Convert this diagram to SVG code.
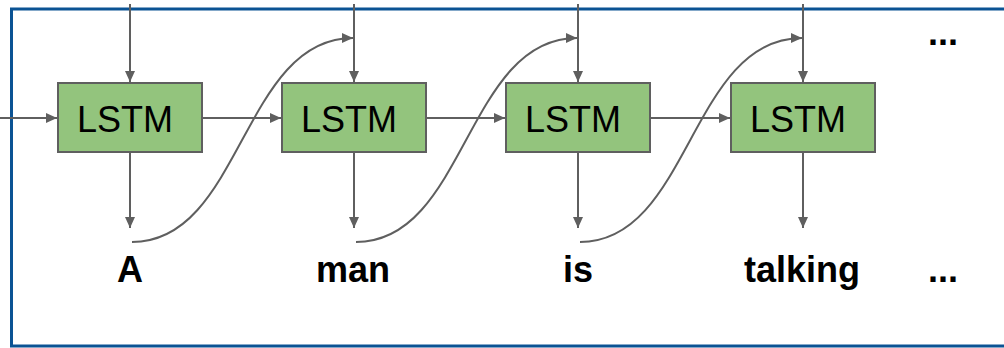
<svg xmlns="http://www.w3.org/2000/svg" width="1004" height="348" viewBox="0 0 1004 348">
<style>
.box{fill:#93c47d;stroke:#5f5f5f;stroke-width:2}
.lbl{font-family:"Liberation Sans",Arial,sans-serif;font-size:36px;fill:#000;text-anchor:middle}
.word{font-family:"Liberation Sans",Arial,sans-serif;font-size:36px;font-weight:bold;fill:#000;text-anchor:middle}
.c{fill:none;stroke:#5f5f5f;stroke-width:2;marker-end:url(#ah)}
</style>
<defs>
<marker id="ah" markerUnits="userSpaceOnUse" markerWidth="12" markerHeight="10" refX="11" refY="5" orient="auto">
<path d="M0,0 L11,5 L0,10 Z" fill="#5f5f5f"/>
</marker>
</defs>
<rect x="11.5" y="9" width="1000" height="337" fill="none" stroke="#0b5394" stroke-width="3"/>
<g id="connectors">
<path class="c" d="M0,118 H57"/>
<path class="c" d="M130,4 V82"/>
<path class="c" d="M354,4 V82"/>
<path class="c" d="M578,4 V82"/>
<path class="c" d="M803,4 V82"/>
<path class="c" d="M202,118 H281"/>
<path class="c" d="M426,118 H505"/>
<path class="c" d="M650,118 H730"/>
<path class="c" d="M130,153 V228"/>
<path class="c" d="M354,153 V228"/>
<path class="c" d="M578,153 V228"/>
<path class="c" d="M803,153 V228"/>
<path class="c" d="M132,242 C242,242 242,38 353,38"/>
<path class="c" d="M356,242 C466,242 466,38 577,38"/>
<path class="c" d="M580,242 C690,242 690,38 802,38"/>
</g>
<g id="lstm1"><rect class="box" x="58" y="83" width="144" height="69"/><text class="lbl" x="125" y="132">LSTM</text></g>
<g id="lstm2"><rect class="box" x="282" y="83" width="144" height="69"/><text class="lbl" x="349" y="132">LSTM</text></g>
<g id="lstm3"><rect class="box" x="506" y="83" width="144" height="69"/><text class="lbl" x="573" y="132">LSTM</text></g>
<g id="lstm4"><rect class="box" x="731" y="83" width="144" height="69"/><text class="lbl" x="798" y="132">LSTM</text></g>
<g id="words">
<text class="word" x="130" y="282">A</text>
<text class="word" x="353" y="282">man</text>
<text class="word" x="578" y="282">is</text>
<text class="word" x="802" y="282">talking</text>
<text class="word" x="943" y="282">...</text>
<text class="word" x="943" y="45">...</text>
</g>
</svg>
